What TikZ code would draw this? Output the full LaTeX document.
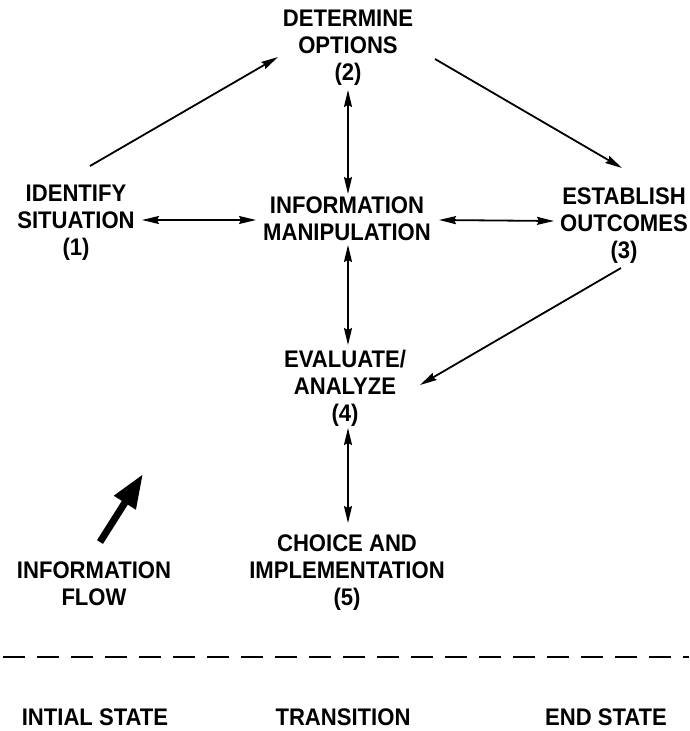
\documentclass[tikz,border=0pt]{standalone}
\usepackage{fontspec}
\setmainfont{Liberation Sans}[FakeStretch=0.92]
\usetikzlibrary{arrows.meta,calc}
\begin{document}
\begin{tikzpicture}[x=1pt,y=-1pt,
  lbl/.style={anchor=north,inner sep=0pt,align=center,
    font=\fontsize{24}{27}\selectfont\bfseries},
  conn/.style={line width=1.8pt,-{Stealth[length=17pt,width=8pt,inset=2pt]}},
  bconn/.style={line width=1.8pt,{Stealth[length=17pt,width=8pt,inset=2pt]}-{Stealth[length=17pt,width=8pt,inset=2pt]}},
  flowarrow/.style={line width=7pt,-{Triangle[length=34pt,width=24pt]}},
  divider/.style={line width=1.8pt,dash pattern=on 22pt off 12pt}]
\useasboundingbox (0,0) rectangle (689,731);
\node[lbl] (n1) at (76,185) {IDENTIFY\\SITUATION\\(1)};
\node[lbl] (n2) at (348,10) {DETERMINE\\OPTIONS\\(2)};
\node[lbl] (n3) at (624,188) {ESTABLISH\\OUTCOMES\\(3)};
\node[lbl] (im) at (347,197) {INFORMATION\\MANIPULATION};
\node[lbl] (n4) at (345,350) {EVALUATE/\\ANALYZE\\(4)};
\node[lbl] (n5) at (347,535) {CHOICE AND\\IMPLEMENTATION\\(5)};
\node[lbl] (flow) at (94,562) {INFORMATION\\FLOW};
\node[lbl] (s1) at (95,709) {INTIAL STATE};
\node[lbl] (s2) at (343,709) {TRANSITION};
\node[lbl] (s3) at (606,709) {END STATE};
\draw[conn] ($(n1.north)+(14,-19)$) -- ($(n2.north)+(-70,47)$);
\draw[conn] ($(n2.north)+(87,49)$) -- ($(n3.north)+(-2,-20)$);
\draw[conn] ($(n3.north)+(-3,80)$) -- ($(n4.north)+(75,35)$);
\draw[bconn] ($(n2.north)+(0,80)$) -- ($(im.north)+(1,-3)$);
\draw[bconn] ($(im.north)+(1,48)$) -- ($(n4.north)+(3,-5)$);
\draw[bconn] ($(n4.north)+(3,78)$) -- ($(n5.north)+(1,-12)$);
\draw[bconn] ($(n1.north)+(66,35)$) -- ($(im.north)+(-91,23)$);
\draw[bconn] ($(im.north)+(92,23)$) -- ($(n3.north)+(-70,33)$);
\coordinate (ft) at ($(flow.north)+(6,-20)$);
\coordinate (fh) at ($(flow.north)+(49,-88)$);
\draw[flowarrow] (ft) -- (fh);
\coordinate (dl) at (3,657);
\coordinate (dr) at (689,657);
\draw[divider] (dl) -- (dr);
\end{tikzpicture}
\end{document}
